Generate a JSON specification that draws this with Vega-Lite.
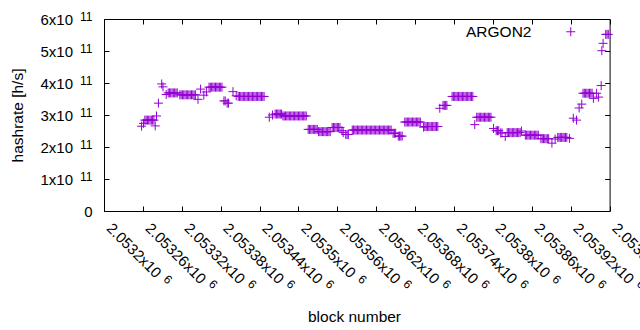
{
 "$schema": "https://vega.github.io/schema/vega-lite/v6.json",
 "width": 505.6, "height": 192,
 "autosize": {"type": "none"},
 "padding": {"left": 104, "top": 19, "right": 30.4, "bottom": 119},
 "background": "white",
 "config": {
  "view": {"stroke": "black", "strokeWidth": 1},
  "font": "Liberation Sans",
  "axis": {"domain": false, "grid": false, "labelFont": "Liberation Sans", "labelFontSize": 15, "labelColor": "black", "titleFont": "Liberation Sans", "titleFontSize": 15.5, "titleFontWeight": "normal", "titleColor": "black", "tickColor": "black", "tickSize": -5, "tickWidth": 1, "labelOverlap": false, "labelFlush": false, "labelBound": false}
 },
 "data": {"values": [
  {"block":2053258,"hashrate":2.65e11},
  {"block":2053261,"hashrate":2.74e11},
  {"block":2053263,"hashrate":2.84e11},{"block":2053265,"hashrate":2.84e11},{"block":2053267,"hashrate":2.84e11},{"block":2053269,"hashrate":2.84e11},{"block":2053271,"hashrate":2.84e11},{"block":2053273,"hashrate":2.84e11},{"block":2053275,"hashrate":2.84e11},{"block":2053277,"hashrate":2.84e11},
  {"block":2053279,"hashrate":2.66e11},
  {"block":2053281,"hashrate":2.97e11},
  {"block":2053284,"hashrate":3.37e11},
  {"block":2053289,"hashrate":3.97e11},
  {"block":2053291,"hashrate":3.88e11},
  {"block":2053296,"hashrate":3.64e11},
  {"block":2053299,"hashrate":3.69e11},{"block":2053301,"hashrate":3.69e11},{"block":2053303,"hashrate":3.69e11},{"block":2053305,"hashrate":3.69e11},{"block":2053307,"hashrate":3.69e11},{"block":2053309,"hashrate":3.69e11},{"block":2053311,"hashrate":3.69e11},{"block":2053313,"hashrate":3.69e11},
  {"block":2053317,"hashrate":3.63e11},{"block":2053319,"hashrate":3.63e11},{"block":2053321,"hashrate":3.63e11},{"block":2053323,"hashrate":3.63e11},{"block":2053325,"hashrate":3.63e11},{"block":2053327,"hashrate":3.63e11},{"block":2053329,"hashrate":3.63e11},{"block":2053331,"hashrate":3.63e11},{"block":2053333,"hashrate":3.63e11},{"block":2053335,"hashrate":3.63e11},{"block":2053337,"hashrate":3.63e11},{"block":2053339,"hashrate":3.63e11},{"block":2053341,"hashrate":3.63e11},
  {"block":2053345,"hashrate":3.49e11},
  {"block":2053349,"hashrate":3.81e11},
  {"block":2053354,"hashrate":3.62e11},
  {"block":2053358,"hashrate":3.72e11},
  {"block":2053362,"hashrate":3.87e11},{"block":2053364,"hashrate":3.87e11},{"block":2053366,"hashrate":3.87e11},{"block":2053368,"hashrate":3.87e11},{"block":2053370,"hashrate":3.87e11},{"block":2053372,"hashrate":3.87e11},{"block":2053374,"hashrate":3.87e11},{"block":2053376,"hashrate":3.87e11},{"block":2053378,"hashrate":3.87e11},{"block":2053380,"hashrate":3.87e11},{"block":2053382,"hashrate":3.87e11},
  {"block":2053385,"hashrate":3.44e11},{"block":2053387,"hashrate":3.44e11},
  {"block":2053390,"hashrate":3.37e11},{"block":2053392,"hashrate":3.37e11},
  {"block":2053399,"hashrate":3.73e11},
  {"block":2053404,"hashrate":3.60e11},
  {"block":2053407,"hashrate":3.58e11},{"block":2053409,"hashrate":3.58e11},{"block":2053411,"hashrate":3.58e11},{"block":2053413,"hashrate":3.58e11},{"block":2053415,"hashrate":3.58e11},{"block":2053417,"hashrate":3.58e11},{"block":2053419,"hashrate":3.58e11},{"block":2053421,"hashrate":3.58e11},{"block":2053423,"hashrate":3.58e11},{"block":2053425,"hashrate":3.58e11},{"block":2053427,"hashrate":3.58e11},{"block":2053429,"hashrate":3.58e11},{"block":2053431,"hashrate":3.58e11},{"block":2053433,"hashrate":3.58e11},{"block":2053435,"hashrate":3.58e11},{"block":2053437,"hashrate":3.58e11},{"block":2053439,"hashrate":3.58e11},{"block":2053441,"hashrate":3.58e11},{"block":2053443,"hashrate":3.58e11},{"block":2053445,"hashrate":3.58e11},{"block":2053447,"hashrate":3.58e11},
  {"block":2053455,"hashrate":2.93e11},
  {"block":2053460,"hashrate":3.00e11},
  {"block":2053464,"hashrate":3.03e11},{"block":2053466,"hashrate":3.03e11},{"block":2053468,"hashrate":3.03e11},{"block":2053470,"hashrate":3.03e11},{"block":2053472,"hashrate":3.03e11},{"block":2053474,"hashrate":3.03e11},
  {"block":2053476,"hashrate":2.97e11},{"block":2053478,"hashrate":2.97e11},{"block":2053480,"hashrate":2.97e11},{"block":2053482,"hashrate":2.97e11},{"block":2053484,"hashrate":2.97e11},{"block":2053486,"hashrate":2.97e11},{"block":2053488,"hashrate":2.97e11},{"block":2053490,"hashrate":2.97e11},{"block":2053492,"hashrate":2.97e11},{"block":2053494,"hashrate":2.97e11},{"block":2053496,"hashrate":2.97e11},{"block":2053498,"hashrate":2.97e11},{"block":2053500,"hashrate":2.97e11},{"block":2053502,"hashrate":2.97e11},{"block":2053504,"hashrate":2.97e11},{"block":2053506,"hashrate":2.97e11},{"block":2053508,"hashrate":2.97e11},{"block":2053510,"hashrate":2.97e11},{"block":2053512,"hashrate":2.97e11},
  {"block":2053515,"hashrate":2.55e11},{"block":2053517,"hashrate":2.55e11},{"block":2053519,"hashrate":2.55e11},{"block":2053521,"hashrate":2.55e11},{"block":2053523,"hashrate":2.55e11},{"block":2053525,"hashrate":2.55e11},{"block":2053527,"hashrate":2.55e11},{"block":2053529,"hashrate":2.55e11},
  {"block":2053531,"hashrate":2.48e11},{"block":2053533,"hashrate":2.48e11},{"block":2053535,"hashrate":2.48e11},{"block":2053537,"hashrate":2.48e11},{"block":2053539,"hashrate":2.48e11},{"block":2053541,"hashrate":2.48e11},{"block":2053543,"hashrate":2.48e11},{"block":2053545,"hashrate":2.48e11},{"block":2053547,"hashrate":2.48e11},{"block":2053549,"hashrate":2.48e11},
  {"block":2053552,"hashrate":2.61e11},{"block":2053554,"hashrate":2.61e11},{"block":2053556,"hashrate":2.61e11},{"block":2053558,"hashrate":2.61e11},{"block":2053560,"hashrate":2.61e11},{"block":2053562,"hashrate":2.61e11},{"block":2053564,"hashrate":2.61e11},
  {"block":2053567,"hashrate":2.51e11},
  {"block":2053569,"hashrate":2.45e11},
  {"block":2053573,"hashrate":2.39e11},{"block":2053575,"hashrate":2.39e11},{"block":2053577,"hashrate":2.39e11},
  {"block":2053583,"hashrate":2.53e11},{"block":2053585,"hashrate":2.53e11},{"block":2053587,"hashrate":2.53e11},{"block":2053589,"hashrate":2.53e11},{"block":2053591,"hashrate":2.53e11},{"block":2053593,"hashrate":2.53e11},{"block":2053595,"hashrate":2.53e11},{"block":2053597,"hashrate":2.53e11},{"block":2053599,"hashrate":2.53e11},{"block":2053601,"hashrate":2.53e11},{"block":2053603,"hashrate":2.53e11},{"block":2053605,"hashrate":2.53e11},{"block":2053607,"hashrate":2.53e11},{"block":2053609,"hashrate":2.53e11},{"block":2053611,"hashrate":2.53e11},{"block":2053613,"hashrate":2.53e11},{"block":2053615,"hashrate":2.53e11},{"block":2053617,"hashrate":2.53e11},{"block":2053619,"hashrate":2.53e11},{"block":2053621,"hashrate":2.53e11},{"block":2053623,"hashrate":2.53e11},{"block":2053625,"hashrate":2.53e11},{"block":2053627,"hashrate":2.53e11},{"block":2053629,"hashrate":2.53e11},{"block":2053631,"hashrate":2.53e11},{"block":2053633,"hashrate":2.53e11},{"block":2053635,"hashrate":2.53e11},{"block":2053637,"hashrate":2.53e11},{"block":2053639,"hashrate":2.53e11},{"block":2053641,"hashrate":2.53e11},{"block":2053643,"hashrate":2.53e11},
  {"block":2053646,"hashrate":2.43e11},{"block":2053648,"hashrate":2.43e11},{"block":2053650,"hashrate":2.43e11},
  {"block":2053654,"hashrate":2.34e11},{"block":2053656,"hashrate":2.34e11},{"block":2053658,"hashrate":2.34e11},{"block":2053660,"hashrate":2.34e11},
  {"block":2053664,"hashrate":2.78e11},{"block":2053666,"hashrate":2.78e11},{"block":2053668,"hashrate":2.78e11},{"block":2053670,"hashrate":2.78e11},{"block":2053672,"hashrate":2.78e11},{"block":2053674,"hashrate":2.78e11},{"block":2053676,"hashrate":2.78e11},{"block":2053678,"hashrate":2.78e11},{"block":2053680,"hashrate":2.78e11},{"block":2053682,"hashrate":2.78e11},{"block":2053684,"hashrate":2.78e11},{"block":2053686,"hashrate":2.78e11},{"block":2053688,"hashrate":2.78e11},
  {"block":2053693,"hashrate":2.62e11},
  {"block":2053695,"hashrate":2.64e11},{"block":2053697,"hashrate":2.64e11},{"block":2053699,"hashrate":2.64e11},{"block":2053701,"hashrate":2.64e11},{"block":2053703,"hashrate":2.64e11},{"block":2053705,"hashrate":2.64e11},{"block":2053707,"hashrate":2.64e11},{"block":2053709,"hashrate":2.64e11},{"block":2053711,"hashrate":2.64e11},{"block":2053713,"hashrate":2.64e11},{"block":2053715,"hashrate":2.64e11},
  {"block":2053718,"hashrate":3.21e11},
  {"block":2053723,"hashrate":3.30e11},{"block":2053725,"hashrate":3.30e11},{"block":2053727,"hashrate":3.30e11},{"block":2053729,"hashrate":3.30e11},
  {"block":2053737,"hashrate":3.58e11},{"block":2053739,"hashrate":3.58e11},{"block":2053741,"hashrate":3.58e11},{"block":2053743,"hashrate":3.58e11},{"block":2053745,"hashrate":3.58e11},{"block":2053747,"hashrate":3.58e11},{"block":2053749,"hashrate":3.58e11},{"block":2053751,"hashrate":3.58e11},{"block":2053753,"hashrate":3.58e11},{"block":2053755,"hashrate":3.58e11},{"block":2053757,"hashrate":3.58e11},{"block":2053759,"hashrate":3.58e11},{"block":2053761,"hashrate":3.58e11},{"block":2053763,"hashrate":3.58e11},{"block":2053765,"hashrate":3.58e11},{"block":2053767,"hashrate":3.58e11},{"block":2053769,"hashrate":3.58e11},
  {"block":2053772,"hashrate":2.70e11},
  {"block":2053775,"hashrate":2.93e11},{"block":2053777,"hashrate":2.93e11},{"block":2053779,"hashrate":2.93e11},{"block":2053781,"hashrate":2.93e11},{"block":2053783,"hashrate":2.93e11},{"block":2053785,"hashrate":2.93e11},{"block":2053787,"hashrate":2.93e11},{"block":2053789,"hashrate":2.93e11},{"block":2053791,"hashrate":2.93e11},{"block":2053793,"hashrate":2.93e11},{"block":2053795,"hashrate":2.93e11},{"block":2053797,"hashrate":2.93e11},
  {"block":2053801,"hashrate":2.58e11},
  {"block":2053805,"hashrate":2.51e11},{"block":2053807,"hashrate":2.51e11},{"block":2053809,"hashrate":2.51e11},
  {"block":2053812,"hashrate":2.44e11},{"block":2053814,"hashrate":2.44e11},
  {"block":2053819,"hashrate":2.33e11},
  {"block":2053822,"hashrate":2.45e11},{"block":2053824,"hashrate":2.45e11},{"block":2053826,"hashrate":2.45e11},{"block":2053828,"hashrate":2.45e11},{"block":2053830,"hashrate":2.45e11},{"block":2053832,"hashrate":2.45e11},{"block":2053834,"hashrate":2.45e11},{"block":2053836,"hashrate":2.45e11},{"block":2053838,"hashrate":2.45e11},{"block":2053840,"hashrate":2.45e11},{"block":2053842,"hashrate":2.45e11},
  {"block":2053844,"hashrate":2.50e11},
  {"block":2053850,"hashrate":2.37e11},{"block":2053852,"hashrate":2.37e11},{"block":2053854,"hashrate":2.37e11},{"block":2053856,"hashrate":2.37e11},{"block":2053858,"hashrate":2.37e11},{"block":2053860,"hashrate":2.37e11},{"block":2053862,"hashrate":2.37e11},{"block":2053864,"hashrate":2.37e11},{"block":2053866,"hashrate":2.37e11},{"block":2053868,"hashrate":2.37e11},{"block":2053870,"hashrate":2.37e11},
  {"block":2053874,"hashrate":2.26e11},{"block":2053876,"hashrate":2.26e11},{"block":2053878,"hashrate":2.26e11},{"block":2053880,"hashrate":2.26e11},{"block":2053882,"hashrate":2.26e11},{"block":2053884,"hashrate":2.26e11},{"block":2053886,"hashrate":2.26e11},
  {"block":2053891,"hashrate":2.12e11},
  {"block":2053896,"hashrate":2.25e11},
  {"block":2053900,"hashrate":2.30e11},{"block":2053902,"hashrate":2.30e11},{"block":2053904,"hashrate":2.30e11},{"block":2053906,"hashrate":2.30e11},{"block":2053908,"hashrate":2.30e11},{"block":2053910,"hashrate":2.30e11},{"block":2053912,"hashrate":2.30e11},{"block":2053914,"hashrate":2.30e11},
  {"block":2053918,"hashrate":2.27e11},
  {"block":2053924,"hashrate":2.90e11},
  {"block":2053929,"hashrate":2.84e11},
  {"block":2053933,"hashrate":3.22e11},
  {"block":2053937,"hashrate":3.34e11},
  {"block":2053939,"hashrate":3.68e11},{"block":2053941,"hashrate":3.68e11},{"block":2053943,"hashrate":3.68e11},{"block":2053945,"hashrate":3.68e11},{"block":2053947,"hashrate":3.68e11},{"block":2053949,"hashrate":3.68e11},{"block":2053951,"hashrate":3.68e11},{"block":2053953,"hashrate":3.68e11},
  {"block":2053955,"hashrate":3.52e11},
  {"block":2053960,"hashrate":3.68e11},
  {"block":2053963,"hashrate":3.56e11},
  {"block":2053967,"hashrate":3.92e11},
  {"block":2053968,"hashrate":5.01e11},
  {"block":2053970,"hashrate":5.24e11},
  {"block":2053974,"hashrate":5.52e11},{"block":2053976,"hashrate":5.52e11},{"block":2053978,"hashrate":5.52e11}
 ]},
 "layer": [
  {
   "mark": {"type": "point", "shape": "M-1,0L1,0M0,-1L0,1", "filled": false, "strokeWidth": 1, "size": 81, "opacity": 1},
   "encoding": {
    "x": {"field": "block", "type": "quantitative", "title": "block number",
      "scale": {"domain": [2053200, 2053980], "nice": false, "zero": false},
      "axis": {"orient": "bottom", "values": [2053200,2053260,2053320,2053380,2053440,2053500,2053560,2053620,2053680,2053740,2053800,2053860,2053920,2053980],
        "labelExpr": "format(datum.value/1e6, '.6~f') + 'x10'", "labelAngle": 45, "labelAlign": "left", "labelBaseline": "middle", "labelPadding": 19.3, "labelOffset": 4.7, "titleX": 250, "titleY": 105, "titleBaseline": "middle", "titleAnchor": null, "titleAlign": "center"}},
    "y": {"field": "hashrate", "type": "quantitative", "title": "hashrate [h/s]",
      "scale": {"domain": [0, 6e11], "nice": false},
      "axis": {"orient": "left", "values": [0,1e11,2e11,3e11,4e11,5e11,6e11],
        "labelExpr": "datum.value == 0 ? '' : format(datum.value/1e11, 'd') + 'x10'", "labelPadding": 36.5, "labelAlign": "right", "labelBaseline": "middle", "titleX": -87, "titleY": 96, "titleBaseline": "middle", "titleAlign": "center"}},
    "color": {"datum": "ARGON2", "scale": {"range": ["#9400d3"]},
      "legend": {"orient": "none", "legendX": 459, "legendY": 5, "title": null, "padding": 0, "labelAlign": "right", "labelOffset": -47, "labelFontSize": 15.5, "labelFont": "Liberation Sans", "labelColor": "black", "symbolType": "M-1,0L1,0M0,-1L0,1", "symbolSize": 81, "symbolStrokeWidth": 1, "symbolFillColor": "transparent", "symbolStrokeColor": "#9400d3", "symbolOpacity": 1}}
   }
  },
  {
   "mark": {"type": "point", "opacity": 0},
   "encoding": {
    "x": {"field": "block", "type": "quantitative",
      "scale": {"domain": [2053200, 2053980], "nice": false, "zero": false},
      "axis": {"orient": "top", "title": null, "labels": false, "values": [2053200,2053260,2053320,2053380,2053440,2053500,2053560,2053620,2053680,2053740,2053800,2053860,2053920,2053980]}},
    "y": {"field": "hashrate", "type": "quantitative",
      "scale": {"domain": [0, 6e11], "nice": false},
      "axis": {"orient": "right", "title": null, "labels": false, "values": [0,1e11,2e11,3e11,4e11,5e11,6e11]}}
   }
  },
  {
   "mark": {"type": "point", "opacity": 0},
   "encoding": {
    "x": {"field": "block", "type": "quantitative",
      "scale": {"domain": [2053200, 2053980], "nice": false, "zero": false},
      "axis": {"orient": "bottom", "title": null, "tickOpacity": 0, "values": [2053200,2053260,2053320,2053380,2053440,2053500,2053560,2053620,2053680,2053740,2053800,2053860,2053920,2053980],
        "labelExpr": "'6'", "labelFontSize": 12, "labelAngle": 45, "labelAlign": "left", "labelBaseline": "middle",
        "labelPadding": {"condition": {"test": "datum.value % 300 == 0", "value": 70.6}, "value": 75.5},
        "labelOffset": {"condition": {"test": "datum.value % 300 == 0", "value": 61}, "value": 67.5}}},
    "y": {"field": "hashrate", "type": "quantitative",
      "scale": {"domain": [0, 6e11], "nice": false},
      "axis": {"orient": "left", "title": null, "tickOpacity": 0, "values": [0,1e11,2e11,3e11,4e11,5e11,6e11],
        "labelExpr": "datum.value == 0 ? '0' : '11'", "labelAlign": "right", "labelBaseline": "middle", "labelPadding": 17,
        "labelFontSize": {"condition": {"test": "datum.value == 0", "value": 15}, "value": 12},
        "labelOffset": {"condition": {"test": "datum.value == 0", "value": 0}, "value": -3}}}
   }
  }
 ],
 "resolve": {"axis": {"x": "independent", "y": "independent"}}
}
